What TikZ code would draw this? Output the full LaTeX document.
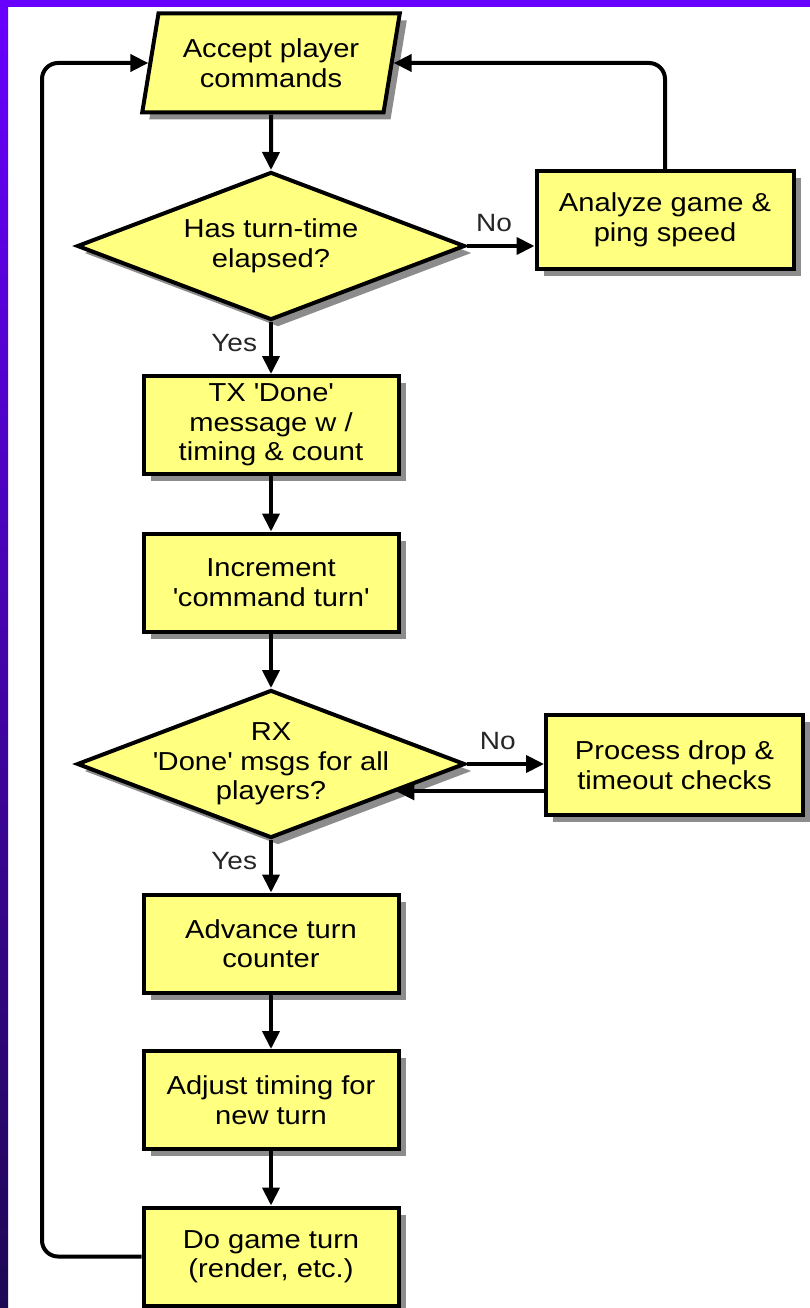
\documentclass[tikz,border=0pt]{standalone}
\usepackage{fontspec}
\setmainfont{Liberation Sans}[FakeStretch=1.12]
\usetikzlibrary{shapes.geometric,arrows.meta,shadows,calc}
\definecolor{boxyellow}{RGB}{255,255,128}
\definecolor{shadowgray}{RGB}{140,140,140}
\definecolor{frametop}{RGB}{104,0,255}
\definecolor{framebot}{RGB}{30,8,84}
\tikzset{
  base/.style={draw=black, line width=4pt, fill=boxyellow,
    drop shadow={shadow xshift=7pt, shadow yshift=-7pt, fill=shadowgray, opacity=1}},
  procbox/.style={base, rectangle, minimum width=255pt, minimum height=98pt,
    inner sep=0pt, align=center, font=\fontsize{26}{29.5}\selectfont},
  decision/.style={base, diamond, minimum width=388pt, minimum height=148pt, inner sep=0pt},
  iobox/.style={base, trapezium, trapezium left angle=75.3, trapezium right angle=104.7,
    trapezium stretches=true, minimum width=258pt, minimum height=99pt, inner sep=0pt,
    align=center, font=\fontsize{26}{29.5}\selectfont},
  txt/.style={align=center, font=\fontsize{26}{29.5}\selectfont, inner sep=0pt},
  lbl/.style={font=\fontsize{25}{29}\selectfont, inner sep=0pt, text=black!85},
  arr/.style={line width=4pt, -{Triangle[length=18pt,width=17pt]}}
}
\begin{document}
\begin{tikzpicture}[x=1pt,y=-1pt]
\useasboundingbox (0,0) rectangle (810,1308);
\fill[white] (0,0) rectangle (810,1308);
\shade[top color=frametop, bottom color=framebot] (0,0) rectangle (8,1308);
\fill[frametop] (0,0) rectangle (810,7);

\node[iobox] (acc) at (271,63) {Accept player\\commands};
\node[decision] (d1) at (271,246) {};
\node[txt] at (d1) {Has turn-time\\elapsed?};
\node[procbox, minimum width=257pt, minimum height=97pt] (ana) at (665,220) {Analyze game \&\\ping speed};
\node[procbox] (tx) at (271,425) {TX \textquotesingle Done\textquotesingle\\message w /\\timing \& count};
\node[procbox] (inc) at (271,582.5) {Increment\\\textquotesingle command turn\textquotesingle};
\node[decision] (d2) at (271,764) {};
\node[txt] at (d2) {RX\\\textquotesingle Done\textquotesingle{} msgs for all\\players?};
\node[procbox, minimum width=257pt, minimum height=100pt] (proc) at (674.5,765) {Process drop \&\\timeout checks};
\node[procbox] (adv) at (271,943.5) {Advance turn\\counter};
\node[procbox] (adj) at (271,1100) {Adjust timing for\\new turn};
\node[procbox] (game) at (271,1256.5) {Do game turn\\(render, etc.)};

\coordinate (loopl) at (42,63);
\coordinate (ret) at ($(d2.east)!0.36!(d2.south)$);

\draw[arr] (acc.south) -- (d1.north);
\draw[arr] (d1.east) -- (d1.east -| ana.west) node[lbl, pos=0.4, above=12pt] {No};
\draw[arr, rounded corners=16pt] (ana.north) |- (acc.right side);
\draw[arr] (d1.south) -- (tx.north) node[lbl, pos=0.4, left=12pt] {Yes};
\draw[arr] (tx.south) -- (inc.north);
\draw[arr] (inc.south) -- (d2.north);
\draw[arr] (d2.east) -- (d2.east -| proc.west) node[lbl, pos=0.4, above=12pt] {No};
\draw[arr] (proc.west |- ret) -- (ret);
\draw[arr] (d2.south) -- (adv.north) node[lbl, pos=0.4, left=12pt] {Yes};
\draw[arr] (adv.south) -- (adj.north);
\draw[arr] (adj.south) -- (game.north);
\draw[arr, rounded corners=16pt] (game.west) -| (loopl) -- (acc.left side);
\end{tikzpicture}
\end{document}
